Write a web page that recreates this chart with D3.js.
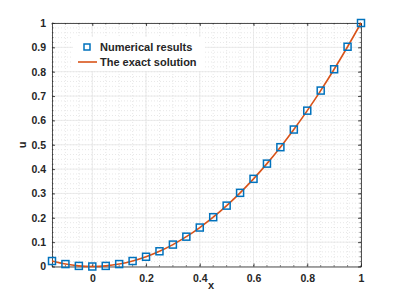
<!DOCTYPE html>
<html>
<head>
<meta charset="utf-8">
<script src="https://cdn.jsdelivr.net/npm/d3@7"></script>
<style>
  body { margin: 0; background: #fff; }
  text { font-family: "Liberation Sans", Arial, sans-serif; font-weight: bold; fill: #262626; }
</style>
</head>
<body>
<svg width="399" height="299"></svg>
<script>
// sample points
var xs = [-0.15, -0.1, -0.05, 0, 0.05, 0.1, 0.15, 0.2, 0.25, 0.3, 0.35, 0.4,
          0.45, 0.5, 0.55, 0.6, 0.65, 0.7, 0.75, 0.8, 0.85, 0.9, 0.95, 1];
var numerical = [0.0225, 0.01, 0.0025, 0, 0.0025, 0.01, 0.0225, 0.04, 0.0625, 0.09, 0.1225, 0.16,
                 0.2025, 0.25, 0.3025, 0.36, 0.4225, 0.49, 0.5625, 0.64, 0.7225, 0.81, 0.9025, 1];
var exact = [0.0225, 0.01, 0.0025, 0, 0.0025, 0.01, 0.0225, 0.04, 0.0625, 0.09, 0.1225, 0.16,
             0.2025, 0.25, 0.3025, 0.36, 0.4225, 0.49, 0.5625, 0.64, 0.7225, 0.81, 0.9025, 1];
var xTicks = [0, 0.2, 0.4, 0.6, 0.8, 1];
var yTicks = [0, 0.1, 0.2, 0.3, 0.4, 0.5, 0.6, 0.7, 0.8, 0.9, 1];
var legendLabels = ["Numerical results", "The exact solution"];

var svg = d3.select("svg");
var pl = 52, pr = 361, pt = 23, pb = 266.5;

var x = d3.scaleLinear().domain([-0.15, 1]).range([pl, pr]);
var y = d3.scaleLinear().domain([0, 1]).range([pb, pt]);

var xMinor = d3.range(-0.15, 1.0001, 0.05);
var yMinor = d3.range(0, 1.0001, 0.02);

// minor grid (dotted)
var grid = svg.append("g");
grid.selectAll("line.xm").data(xMinor).enter().append("line")
  .attr("x1", d => x(d)).attr("x2", d => x(d)).attr("y1", pt).attr("y2", pb)
  .attr("stroke", "#d8d8d8").attr("stroke-width", 0.6).attr("stroke-dasharray", "1,2");
grid.selectAll("line.ym").data(yMinor).enter().append("line")
  .attr("y1", d => y(d)).attr("y2", d => y(d)).attr("x1", pl).attr("x2", pr)
  .attr("stroke", "#d8d8d8").attr("stroke-width", 0.6).attr("stroke-dasharray", "1,2");
// major grid
grid.selectAll("line.xg").data(xTicks).enter().append("line")
  .attr("x1", d => x(d)).attr("x2", d => x(d)).attr("y1", pt).attr("y2", pb)
  .attr("stroke", "#e6e6e6").attr("stroke-width", 0.8);
grid.selectAll("line.yg").data(yTicks).enter().append("line")
  .attr("y1", d => y(d)).attr("y2", d => y(d)).attr("x1", pl).attr("x2", pr)
  .attr("stroke", "#e6e6e6").attr("stroke-width", 0.8);

// axes with inward ticks on all sides
function styleAxis(g) {
  g.select(".domain").attr("stroke", "#262626").attr("stroke-width", 0.8);
  g.selectAll(".tick line").attr("stroke", "#262626").attr("stroke-width", 0.8);
  g.selectAll("text").attr("font-size", 10.5).attr("fill", "#262626")
    .attr("font-family", "Liberation Sans, Arial, sans-serif").attr("font-weight", "bold");
}
var fmt = d3.format("");
svg.append("g").attr("transform", "translate(0," + pb + ")")
  .call(d3.axisBottom(x).tickValues(xTicks).tickSize(-3).tickPadding(8).tickFormat(fmt).tickSizeOuter(0))
  .call(styleAxis);
svg.append("g").attr("transform", "translate(0," + pt + ")")
  .call(d3.axisTop(x).tickValues(xTicks).tickSize(-3).tickFormat("").tickSizeOuter(0))
  .call(styleAxis);
svg.append("g").attr("transform", "translate(" + pl + ",0)")
  .call(d3.axisLeft(y).tickValues(yTicks).tickSize(-3).tickPadding(6).tickFormat(fmt).tickSizeOuter(0))
  .call(styleAxis);
svg.append("g").attr("transform", "translate(" + pr + ",0)")
  .call(d3.axisRight(y).tickValues(yTicks).tickSize(-3).tickFormat("").tickSizeOuter(0))
  .call(styleAxis);

// minor ticks
var mt = svg.append("g").attr("stroke", "#262626").attr("stroke-width", 0.6);
xMinor.forEach(function(d) {
  mt.append("line").attr("x1", x(d)).attr("x2", x(d)).attr("y1", pb).attr("y2", pb - 1.5);
  mt.append("line").attr("x1", x(d)).attr("x2", x(d)).attr("y1", pt).attr("y2", pt + 1.5);
});
yMinor.forEach(function(d) {
  mt.append("line").attr("y1", y(d)).attr("y2", y(d)).attr("x1", pl).attr("x2", pl + 1.5);
  mt.append("line").attr("y1", y(d)).attr("y2", y(d)).attr("x1", pr).attr("x2", pr - 1.5);
});

// exact solution line
var pts = xs.map((d, i) => [d, exact[i]]);
svg.append("path").datum(pts)
  .attr("fill", "none").attr("stroke", "#D95319").attr("stroke-width", 1.6)
  .attr("d", d3.line().x(d => x(d[0])).y(d => y(d[1])).curve(d3.curveMonotoneX));

// numerical markers
svg.selectAll("rect.pt").data(xs).enter().append("rect")
  .attr("class", "pt")
  .attr("x", d => x(d) - 3.5).attr("y", (d, i) => y(numerical[i]) - 3.5)
  .attr("width", 7).attr("height", 7)
  .attr("fill", "none").attr("stroke", "#0072BD").attr("stroke-width", 1.5);

// axis labels
svg.append("text").attr("x", 211).attr("y", 289).attr("text-anchor", "middle")
  .attr("font-size", 11).text("x");
svg.append("text").attr("transform", "translate(26,145) rotate(-90)").attr("text-anchor", "middle")
  .attr("font-size", 11).text("u");

// legend
var lg = svg.append("g");
lg.append("rect").attr("x", 73).attr("y", 37).attr("width", 132).attr("height", 34).attr("fill", "#fff");
lg.append("rect").attr("x", 84).attr("y", 44).attr("width", 6).attr("height", 6)
  .attr("fill", "none").attr("stroke", "#0072BD").attr("stroke-width", 1.5);
lg.append("line").attr("x1", 78).attr("x2", 97).attr("y1", 62).attr("y2", 62)
  .attr("stroke", "#D95319").attr("stroke-width", 1.6);
lg.selectAll("text.lg").data(legendLabels).enter().append("text")
  .attr("x", 100).attr("y", (d, i) => 51 + i * 14.5)
  .attr("font-size", 11).text(d => d);
</script>
</body>
</html>
